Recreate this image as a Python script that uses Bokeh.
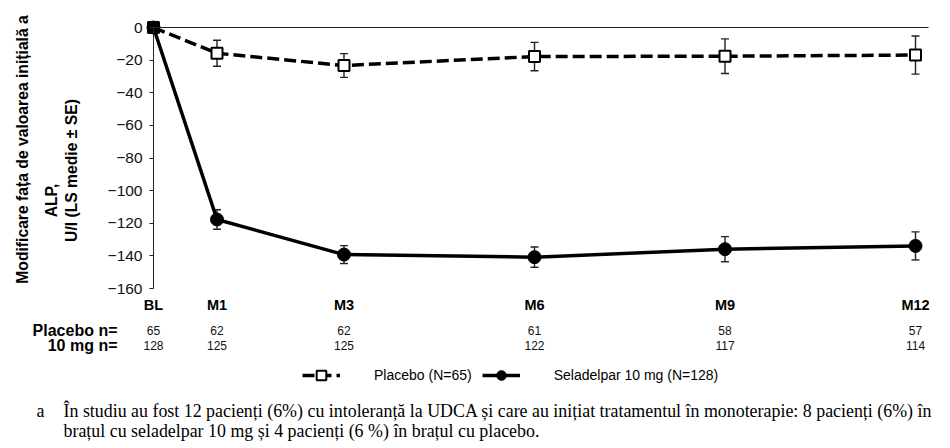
from math import pi
from bokeh.plotting import figure
from bokeh.models import (Range1d, FixedTicker, LinearAxis, Label, LabelSet, ColumnDataSource,
                          Whisker, TeeHead, Legend, LegendItem)
from bokeh.core.properties import value
from bokeh.embed import file_html
from bokeh.resources import INLINE

# ---------------- data ----------------
months = [0, 1, 3, 6, 9, 12]
visit_labels = ["BL", "M1", "M3", "M6", "M9", "M12"]
placebo_mean = [0, -15.8, -23.3, -17.8, -17.6, -16.9]
placebo_se = [0, 8.0, 7.3, 8.7, 10.6, 11.7]
sel_mean = [0, -117.7, -139.2, -140.8, -135.9, -133.9]
sel_se = [0, 6.0, 5.5, 6.2, 7.7, 8.6]
placebo_n = [65, 62, 62, 61, 58, 57]
sel_n = [128, 125, 125, 122, 117, 114]
y_ticks = [0, -20, -40, -60, -80, -100, -120, -140, -160]
y_title_lines = ["Modificare fața de valoarea inițială a", "ALP,", "U/l (LS medie ± SE)"]
row_titles = ["Placebo n=", "10 mg n="]
legend_labels = ["Placebo (N=65)", "Seladelpar 10 mg (N=128)"]
footnote_mark = "a"
footnote_lines = [
    "În studiu au fost 12 pacienți (6%) cu intoleranță la UDCA și care au inițiat tratamentul în monoterapie: 8 pacienți (6%) în",
    "brațul cu seladelpar 10 mg și 4 pacienți (6 %) în brațul cu placebo.",
]

# ---------------- layout constants (pixels) ----------------
W, H = 950, 448
X0_PX, PX_PER_MONTH = 153.0, 63.5      # where month 0 sits, pixels per month
Y0_PX, PX_PER_UNIT = 27.0, 261.0 / 160  # where y = 0 sits, pixels per U/l
X_AXIS_END = 12.2                       # horizontal axis runs to here

FONT = "Liberation Sans"
SERIF = "Liberation Serif"
INK = "#000000"


def px2x(px):
    return (px - X0_PX) / PX_PER_MONTH


def py2y(py):
    return (Y0_PX - py) / PX_PER_UNIT


src = ColumnDataSource(dict(
    m=months,
    pm=placebo_mean,
    pl=[a - b for a, b in zip(placebo_mean, placebo_se)],
    pu=[a + b for a, b in zip(placebo_mean, placebo_se)],
    sm=sel_mean,
    sl=[a - b for a, b in zip(sel_mean, sel_se)],
    su=[a + b for a, b in zip(sel_mean, sel_se)],
    pn=[str(v) for v in placebo_n],
    sn=[str(v) for v in sel_n],
))

p = figure(width=W, height=H, title=None,
           x_range=Range1d(px2x(0), px2x(W)), y_range=Range1d(py2y(H), py2y(0)),
           output_backend="svg", toolbar_location=None, min_border=0)
p.outline_line_color = None
p.grid.visible = False
p.background_fill_color = "white"
p.border_fill_color = "white"

# y axis, crossing at month 0
yax = p.yaxis[0]
yax.fixed_location = 0
yax.bounds = (-160, 0)
yax.ticker = FixedTicker(ticks=y_ticks)
yax.minor_tick_line_color = None
yax.major_tick_in = 0
yax.major_tick_out = 4
yax.major_tick_line_color = "#222222"
yax.axis_line_color = "#222222"
yax.major_label_text_font = FONT
yax.major_label_text_font_size = "15.5px"
yax.major_label_text_color = "#111111"
yax.major_label_standoff = 7

# visit labels under the plot
xax = p.xaxis[0]
xax.fixed_location = -160
xax.ticker = FixedTicker(ticks=months)
xax.major_label_overrides = {m: l for m, l in zip(months, visit_labels)}
xax.axis_line_color = None
xax.major_tick_line_color = None
xax.minor_tick_line_color = None
xax.major_label_text_font = FONT
xax.major_label_text_font_style = "bold"
xax.major_label_text_font_size = "14.5px"
xax.major_label_text_color = INK
xax.major_label_standoff = 2

# horizontal axis line at y = 0
zax = LinearAxis(fixed_location=0, bounds=(0, X_AXIS_END))
zax.ticker = FixedTicker(ticks=[])
zax.major_tick_line_color = None
zax.minor_tick_line_color = None
zax.major_label_text_font_size = "0px"
zax.axis_line_color = "#222222"
zax.axis_line_width = 1
p.add_layout(zax, "above")

# error bars
for lo, hi in (("pl", "pu"), ("sl", "su")):
    w = Whisker(source=src, base="m", lower=lo, upper=hi, line_color="#222222", line_width=1.4,
                upper_head=TeeHead(size=8, line_color="#222222", line_width=1.4),
                lower_head=TeeHead(size=8, line_color="#222222", line_width=1.4))
    p.add_layout(w)

pl_line = p.line("m", "pm", source=src, line_color=INK, line_width=3.5, line_dash="12 5")
sl_line = p.line("m", "sm", source=src, line_color=INK, line_width=3.5)
pl_mark = p.scatter("m", "pm", source=src, marker="square", size=11, fill_color="white",
                    line_color=INK, line_width=2)
sl_mark = p.scatter("m", "sm", source=src, marker="circle", size=13, fill_color=INK,
                    line_color=INK, line_width=1)

# n at risk rows
ROW_PY = (330, 345)
for col, py in zip(("pn", "sn"), ROW_PY):
    p.add_layout(LabelSet(source=src, x="m", y=py2y(py), text=col,
                          text_align="center", text_baseline="middle",
                          text_font=value(FONT), text_font_size=value("12px"),
                          text_color="#111111"))
for t, py in zip(row_titles, ROW_PY):
    p.add_layout(Label(x=px2x(117), y=py2y(py), text=t,
                       text_align="right", text_baseline="middle", text_font=FONT,
                       text_font_style="bold", text_font_size="16px", text_color=INK))

# y title (three rotated lines)
for t, cx, cy in zip(y_title_lines, (22, 51, 71), (149, 200, 170)):
    p.add_layout(Label(x=px2x(cx), y=py2y(cy), text=t, angle=pi / 2,
                       text_align="center", text_baseline="middle",
                       text_font=FONT, text_font_style="bold", text_font_size="15.7px",
                       text_color=INK))

# legend
legend = Legend(items=[LegendItem(label=legend_labels[0], renderers=[pl_line, pl_mark]),
                       LegendItem(label=legend_labels[1], renderers=[sl_line, sl_mark])],
                orientation="horizontal", location=(302, H - 387),
                glyph_width=38, glyph_height=24, label_standoff=34, spacing=10,
                padding=0, margin=0, border_line_color=None, background_fill_alpha=0,
                label_text_font=FONT, label_text_font_size="14px", label_text_color=INK)
p.add_layout(legend)

# footnote
p.add_layout(Label(x=px2x(36), y=py2y(410), text=footnote_mark, text_baseline="middle",
                   text_font=SERIF, text_font_size="17.9px", text_color=INK))
for t, py in zip(footnote_lines, (410, 430)):
    p.add_layout(Label(x=px2x(63), y=py2y(py), text=t, text_baseline="middle",
                       text_font=SERIF, text_font_size="17.9px", text_color=INK))

open("out.html", "w").write(file_html(p, INLINE))
